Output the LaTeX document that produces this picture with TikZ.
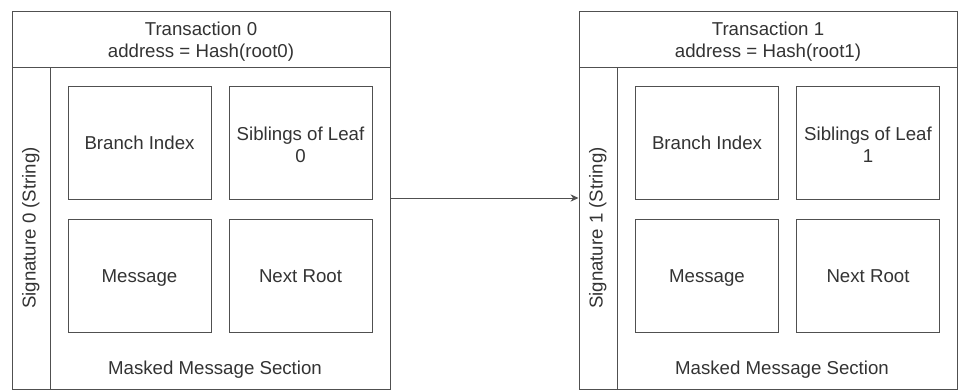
\documentclass[tikz,border=0pt]{standalone}
\usepackage{fontspec}
\setmainfont{Liberation Sans}
\usetikzlibrary{arrows.meta}
\definecolor{stroke}{HTML}{505050}
\definecolor{ink}{HTML}{333333}
\begin{document}
\begin{tikzpicture}[x=0.75pt,y=-0.75pt,
  every node/.style={font=\fontsize{14}{16.5}\selectfont, text=ink, inner sep=0pt, align=center},
  container/.style={draw=stroke, line width=0.75pt, minimum width=283.5pt, minimum height=283.5pt},
  header/.style={draw=stroke, line width=0.75pt, minimum width=283.5pt, minimum height=42pt},
  sigcol/.style={draw=stroke, line width=0.75pt, minimum width=28.5pt, minimum height=241.5pt},
  field/.style={draw=stroke, line width=0.75pt, minimum width=107.25pt, minimum height=84.75pt,
    text height=12pt, text depth=2pt},
  link/.style={draw=stroke, line width=0.75pt, -{Stealth[length=6pt,width=5.5pt]}}]
\useasboundingbox (0,0) rectangle (958,390);

% Transaction 0
\node[container] (t0) at (201,200) {};
\node[header] (h0) at (201,39) {};
\node (ht0) at (201,41.5) {Transaction 0\\address = Hash(root0)};
\node[sigcol] (c0) at (31,228) {};
\node[rotate=90, text height=10pt, text depth=3pt] (s0) at (c0) {Signature 0 (String)};
\node[field] (b0) at (139.5,142.5) {Branch Index};
\node[field] (l0) at (300.5,142.5) {};
\node (lt0) at (300.5,144.5) {Siblings of Leaf\\0};
\node[field] (m0) at (139.5,275.5) {Message};
\node[field] (r0) at (300.5,275.5) {Next Root};
\node (k0) at (215,370) {Masked Message Section};

% Transaction 1
\node[container] (t1) at (768,200) {};
\node[header] (h1) at (768,39) {};
\node (ht1) at (768,41.5) {Transaction 1\\address = Hash(root1)};
\node[sigcol] (c1) at (598,228) {};
\node[rotate=90, text height=10pt, text depth=3pt] (s1) at (c1) {Signature 1 (String)};
\node[field] (b1) at (707,142.5) {Branch Index};
\node[field] (l1) at (868,142.5) {};
\node (lt1) at (868,144.5) {Siblings of Leaf\\1};
\node[field] (m1) at (707,275.5) {Message};
\node[field] (r1) at (868,275.5) {Next Root};
\node (k1) at (782,370) {Masked Message Section};

% Link between the two transactions
\draw[link] ([yshift=1.5pt]t0.east) -- ([yshift=1.5pt]t1.west);
\end{tikzpicture}
\end{document}
